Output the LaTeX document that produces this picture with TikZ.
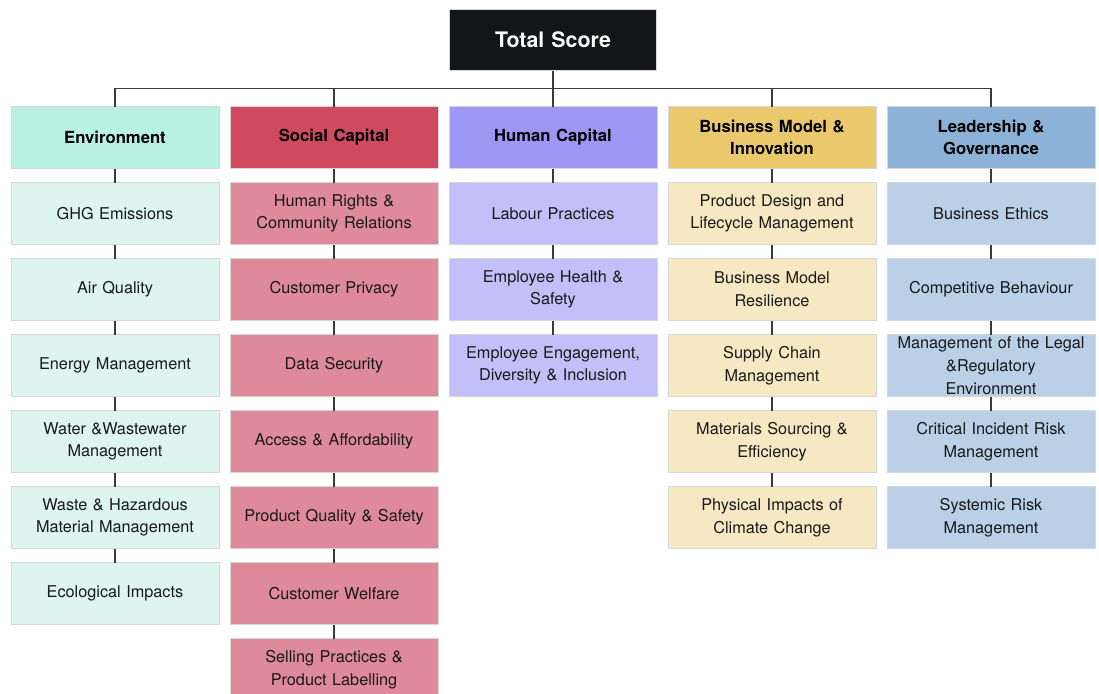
\documentclass[tikz,border=0pt]{standalone}
\usepackage{fontspec}
\setmainfont[WordSpace=0.7]{TeX Gyre Heros}
\usepackage{tikz}
\usetikzlibrary{positioning, calc}
\usepackage{xcolor}
\definecolor{envhead}{HTML}{B8F0E1}
\definecolor{envitem}{HTML}{DEF4EE}
\definecolor{sochead}{HTML}{CF4A5F}
\definecolor{socitem}{HTML}{DE8A9A}
\definecolor{humhead}{HTML}{9B97F2}
\definecolor{humitem}{HTML}{C2C0F8}
\definecolor{bushead}{HTML}{E9C96C}
\definecolor{busitem}{HTML}{F6E8C3}
\definecolor{leadhead}{HTML}{8CB2D7}
\definecolor{leaditem}{HTML}{B9D0E6}
\definecolor{rim}{HTML}{D4D6D8}
\definecolor{wire}{HTML}{383A3C}
\definecolor{topfill}{HTML}{121619}
\tikzset{box/.style={draw=rim, line width=0.6pt, minimum width=156pt, minimum height=46.5pt, text width=150pt, align=center, inner sep=0pt, outer sep=0pt}}
\tikzset{head/.style={box, font=\bfseries\fontsize{12.5}{17}\selectfont}}
\tikzset{item/.style={box, font=\fontsize{12.2}{17}\selectfont, text=black!90}}
\tikzset{link/.style={draw=wire, line width=1.1pt}}

\begin{document}
\begin{tikzpicture}[node distance=10.5pt]
          \clip (0,0) rectangle (824.25pt,-519.75pt);
          \fill[white] (0,0) rectangle (824.25pt,-519.75pt);

          \node[box, fill=topfill, text=white, font=\bfseries\fontsize{16}{19}\selectfont,
          minimum width=155.25pt, minimum height=45.75pt] (total) at (414.75pt,-30pt) {Total Score};

          % categories
          \node[head, fill=humhead, below=27pt of total] (cat3) {Human Capital};
          \node[head, fill=sochead, left=8.25pt of cat3] (cat2) {Social Capital};
          \node[head, fill=envhead, left=8.25pt of cat2] (cat1) {Environment};
          \node[head, fill=bushead, right=8.25pt of cat3] (cat4) {Business Model \&\\Innovation};
          \node[head, fill=leadhead, right=8.25pt of cat4] (cat5) {Leadership \&\\Governance};

          \coordinate (bus) at ($(total.south)!0.5!(cat3.north)$);
          \draw[link] (total) -- (cat3);
          \draw[link] (cat1.north) |- (bus) -| (cat5.north);
          \draw[link] (cat2.north) -- (cat2.north |- bus);
          \draw[link] (cat4.north) -- (cat4.north |- bus);

          % environment
          \node[item, fill=envitem, below=of cat1] (env1) {GHG Emissions} edge[link] (cat1);
          \node[item, fill=envitem, below=of env1] (env2) {Air Quality} edge[link] (env1);
          \node[item, fill=envitem, below=of env2] (env3) {Energy Management} edge[link] (env2);
          \node[item, fill=envitem, below=of env3] (env4) {Water \&Wastewater\\Management} edge[link] (env3);
          \node[item, fill=envitem, below=of env4] (env5) {Waste \& Hazardous\\Material Management} edge[link] (env4);
          \node[item, fill=envitem, below=of env5] (env6) {Ecological Impacts} edge[link] (env5);

          % social capital
          \node[item, fill=socitem, below=of cat2] (soc1) {Human Rights \&\\Community Relations} edge[link] (cat2);
          \node[item, fill=socitem, below=of soc1] (soc2) {Customer Privacy} edge[link] (soc1);
          \node[item, fill=socitem, below=of soc2] (soc3) {Data Security} edge[link] (soc2);
          \node[item, fill=socitem, below=of soc3] (soc4) {Access \& Affordability} edge[link] (soc3);
          \node[item, fill=socitem, below=of soc4] (soc5) {Product Quality \& Safety} edge[link] (soc4);
          \node[item, fill=socitem, below=of soc5] (soc6) {Customer Welfare} edge[link] (soc5);
          \node[item, fill=socitem, below=of soc6] (soc7) {Selling Practices \&\\Product Labelling} edge[link] (soc6);

          % human capital
          \node[item, fill=humitem, below=of cat3] (hum1) {Labour Practices} edge[link] (cat3);
          \node[item, fill=humitem, below=of hum1] (hum2) {Employee Health \&\\Safety} edge[link] (hum1);
          \node[item, fill=humitem, below=of hum2] (hum3) {Employee Engagement,\\Diversity \& Inclusion} edge[link] (hum2);

          % business model
          \node[item, fill=busitem, below=of cat4] (bus1) {Product Design and\\Lifecycle Management} edge[link] (cat4);
          \node[item, fill=busitem, below=of bus1] (bus2) {Business Model\\Resilience} edge[link] (bus1);
          \node[item, fill=busitem, below=of bus2] (bus3) {Supply Chain\\Management} edge[link] (bus2);
          \node[item, fill=busitem, below=of bus3] (bus4) {Materials Sourcing \&\\Efficiency} edge[link] (bus3);
          \node[item, fill=busitem, below=of bus4] (bus5) {Physical Impacts of\\Climate Change} edge[link] (bus4);

          % leadership
          \node[item, fill=leaditem, below=of cat5] (lead1) {Business Ethics} edge[link] (cat5);
          \node[item, fill=leaditem, below=of lead1] (lead2) {Competitive Behaviour} edge[link] (lead1);
          \node[item, fill=leaditem, below=of lead2] (lead3) {Management of the Legal\\\&Regulatory\\Environment} edge[link] (lead2);
          \node[item, fill=leaditem, below=of lead3] (lead4) {Critical Incident Risk\\Management} edge[link] (lead3);
          \node[item, fill=leaditem, below=of lead4] (lead5) {Systemic Risk\\Management} edge[link] (lead4);
\end{tikzpicture}
\end{document}
